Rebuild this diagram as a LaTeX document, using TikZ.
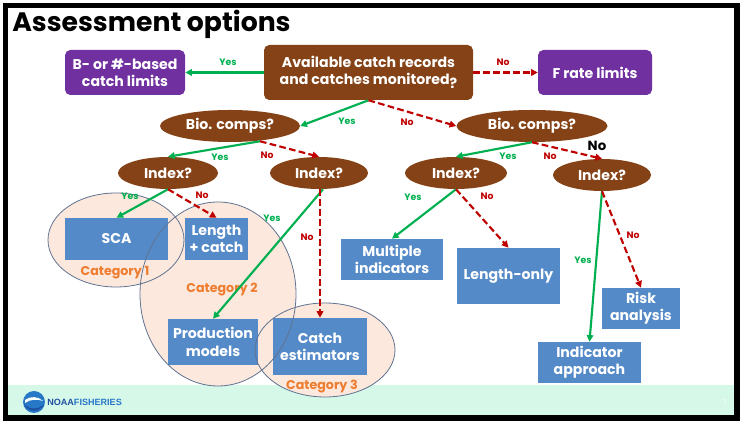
\documentclass[tikz,border=0pt]{standalone}
\usepackage{fontspec}
\setmainfont{Poppins}
\newfontfamily\logofont{Liberation Sans}
\usetikzlibrary{shapes.geometric,arrows.meta,calc}
\definecolor{purp}{RGB}{112,48,160}
\definecolor{brn}{RGB}{132,66,22}
\definecolor{boxblue}{RGB}{84,138,200}
\definecolor{arrgreen}{RGB}{0,176,80}
\definecolor{arrred}{RGB}{192,0,0}
\definecolor{catorange}{RGB}{237,125,49}
\definecolor{peach}{RGB}{252,232,220}
\definecolor{catline}{RGB}{95,115,145}
\definecolor{mint}{RGB}{214,248,233}
\definecolor{noaablue}{RGB}{30,80,160}
\definecolor{noaalight}{RGB}{40,120,200}
\begin{document}
\begin{tikzpicture}[x=0.75pt,y=-0.75pt,
  sz/.style 2 args={minimum width=#1*0.75pt,minimum height=#2*0.75pt},
  boxfont/.style={font=\bfseries\fontsize{10.6}{13}\selectfont},
  box/.style={rectangle,fill=boxblue,text=white,boxfont,align=center,inner sep=0pt},
  pbox/.style={rectangle,rounded corners=4pt,fill=purp,text=white,boxfont,align=center,inner sep=0pt},
  bbox/.style={rectangle,rounded corners=4pt,fill=brn,text=white,boxfont,align=center,inner sep=0pt},
  oval/.style={ellipse,fill=brn,text=white,boxfont,inner sep=0pt},
  catfill/.style={ellipse,fill=peach,inner sep=0pt},
  catout/.style={ellipse,draw=catline,line width=0.6pt,inner sep=0pt},
  yes/.style={draw=arrgreen,line width=1.6pt,-{Triangle[length=5pt,width=5pt]}},
  no/.style={draw=arrred,line width=1.6pt,dash pattern=on 5pt off 2.5pt,-{Triangle[length=5pt,width=5pt]}},
  ylab/.style={text=arrgreen,font=\bfseries\fontsize{7}{8}\selectfont,inner sep=0pt},
  nlab/.style={text=arrred,font=\bfseries\fontsize{7}{8}\selectfont,inner sep=0pt},
  catlab/.style={text=catorange,font=\bfseries\fontsize{9.5}{11}\selectfont,inner sep=0pt}
]
\useasboundingbox (0,0) rectangle (740,423);
\fill[white] (0,0) rectangle (740,423);
% footer strip
\fill[mint] (8,385) rectangle (734,415);

% category ellipse fills
\node[catfill,sz={136}{94}] (cat1) at (116,240) {};
\node[catfill,sz={156}{184}] (cat2) at (218,294) {};
\node[catfill,sz={140}{94}] (cat3) at (325,350) {};

% title
\node[anchor=west,inner sep=0pt,font=\bfseries\fontsize{20}{24}\selectfont] (title) at (12,24) {Assessment options};

% top row
\node[pbox,sz={120}{45}] (bcl) at (125,72.5) {B- or \#-based\\catch limits};
\node[bbox,sz={209}{55}] (avail) at (368.5,72.5) {Available catch records\\and catches monitored\raisebox{-3pt}{?}};
\node[pbox,sz={114}{45}] (frl) at (595,72.5) {F rate limits};

% bio comps
\node[oval,sz={140}{32}] (bio1) at (230,126) {Bio. comps?};
\node[oval,sz={151}{32}] (bio2) at (532,126) {Bio. comps?};

% index
\node[oval,sz={100}{32}] (idx1) at (168,173) {Index?};
\node[oval,sz={98}{32}] (idx2) at (319,173) {Index?};
\node[oval,sz={102}{32}] (idx3) at (456,173) {Index?};
\node[oval,sz={98}{32}] (idx4) at (602,175) {Index?};

% outcome boxes
\node[box,sz={103}{42}] (sca) at (116.5,239) {SCA};
\node[box,sz={63}{42}] (lc) at (216.5,239) {Length\\+ catch};
\node[box,sz={90}{46}] (prod) at (213,342) {Production\\models};
\node[box,sz={94}{57}] (cest) at (320,346.5) {Catch\\estimators};
\node[box,sz={102}{41}] (mult) at (392,259.5) {Multiple\\indicators};
\node[box,sz={103}{56}] (lonly) at (508.5,276) {Length-only};
\node[box,sz={78}{41}] (risk) at (641,308.5) {Risk\\analysis};
\node[box,sz={103}{41}] (indap) at (589.5,362.5) {Indicator\\approach};

% category outlines
\node[catout,sz={136}{94}] (cat1o) at (116,240) {};
\node[catout,sz={156}{184}] (cat2o) at (218,294) {};
\node[catout,sz={140}{94}] (cat3o) at (325,350) {};

% category labels
\node[catlab] (c1) at (115,273) {Category 1};
\node[catlab] (c2) at (222,290) {Category 2};
\node[catlab] (c3) at (322,387) {Category 3};

% connectors
\draw[yes] (avail.west) -- (bcl.east);
\draw[no] (avail.east) -- (frl.west);
\draw[yes] (avail.south) -- (bio1.east);
\draw[no] (avail.south) -- (bio2.west);
\draw[yes] ($(bio1.south)+(30,-1)$) -- (idx1.north);
\draw[no] ($(bio1.south)+(30,-1)$) -- (idx2.north);
\draw[yes] (bio2.south) -- (idx3.north);
\draw[no] (bio2.south) -- (idx4.north);
\draw[yes] (idx1.south) -- (sca.north);
\draw[no] (idx1.south) -- (lc.north);
\draw[yes] ($(idx2.south)+(4,0)$) -- (prod.north);
\draw[no] ($(idx2.south)+(1,0)$) -- (cest.north);
\draw[yes] (idx3.south) -- (mult.north);
\draw[no] (idx3.south) -- (lonly.north);
\draw[yes] (idx4.south) -- (indap.north);
\draw[no] (idx4.south) -- (risk.north);

% labels
\node[ylab] (l1) at (228,62) {Yes};
\node[nlab] (l2) at (503,62) {No};
\node[ylab] (l3) at (347,121) {Yes};
\node[nlab] (l4) at (407,122) {No};
\node[ylab] (l5) at (220,157) {Yes};
\node[nlab] (l6) at (267,155) {No};
\node[ylab] (l7) at (508,156) {Yes};
\node[nlab] (l8) at (550,156) {No};
\node[inner sep=0pt,font=\bfseries\fontsize{10}{12}\selectfont] (bigno) at (597,146) {No};
\node[ylab] (l9) at (130,196) {Yes};
\node[nlab] (l10) at (202,195) {No};
\node[ylab] (l11) at (272,218) {Yes};
\node[nlab] (l12) at (307,237) {No};
\node[ylab] (l13) at (413,197) {Yes};
\node[nlab] (l14) at (487,196) {No};
\node[ylab] (l15) at (583,260) {Yes};
\node[nlab] (l16) at (633,235) {No};

% NOAA logo
\node[circle,fill=noaalight,inner sep=0pt,minimum size=16.5pt] (logo) at (34,402) {};
\fill[white] (25,400) .. controls (30,396) and (38,396) .. (43,401) .. controls (38,399) and (30,399) .. (25,403) -- cycle;
\fill[noaablue] (24,404) .. controls (30,410) and (38,410) .. (44,404) .. controls (40,413) and (28,413) .. (24,404) -- cycle;
\node[anchor=west,inner sep=0pt,font=\logofont\bfseries\fontsize{6.8}{8}\selectfont] (noaa) at (47,402) {\textcolor{noaablue}{NOAA}\textcolor{noaalight}{FISHERIES}};
\node[inner sep=0pt,text=white!85!mint,font=\fontsize{5}{6}\selectfont] (pg) at (725,402) {7};

% frame
\draw[black,line width=4.2pt] (5.5,5.5) rectangle (737,418);
\end{tikzpicture}
\end{document}
